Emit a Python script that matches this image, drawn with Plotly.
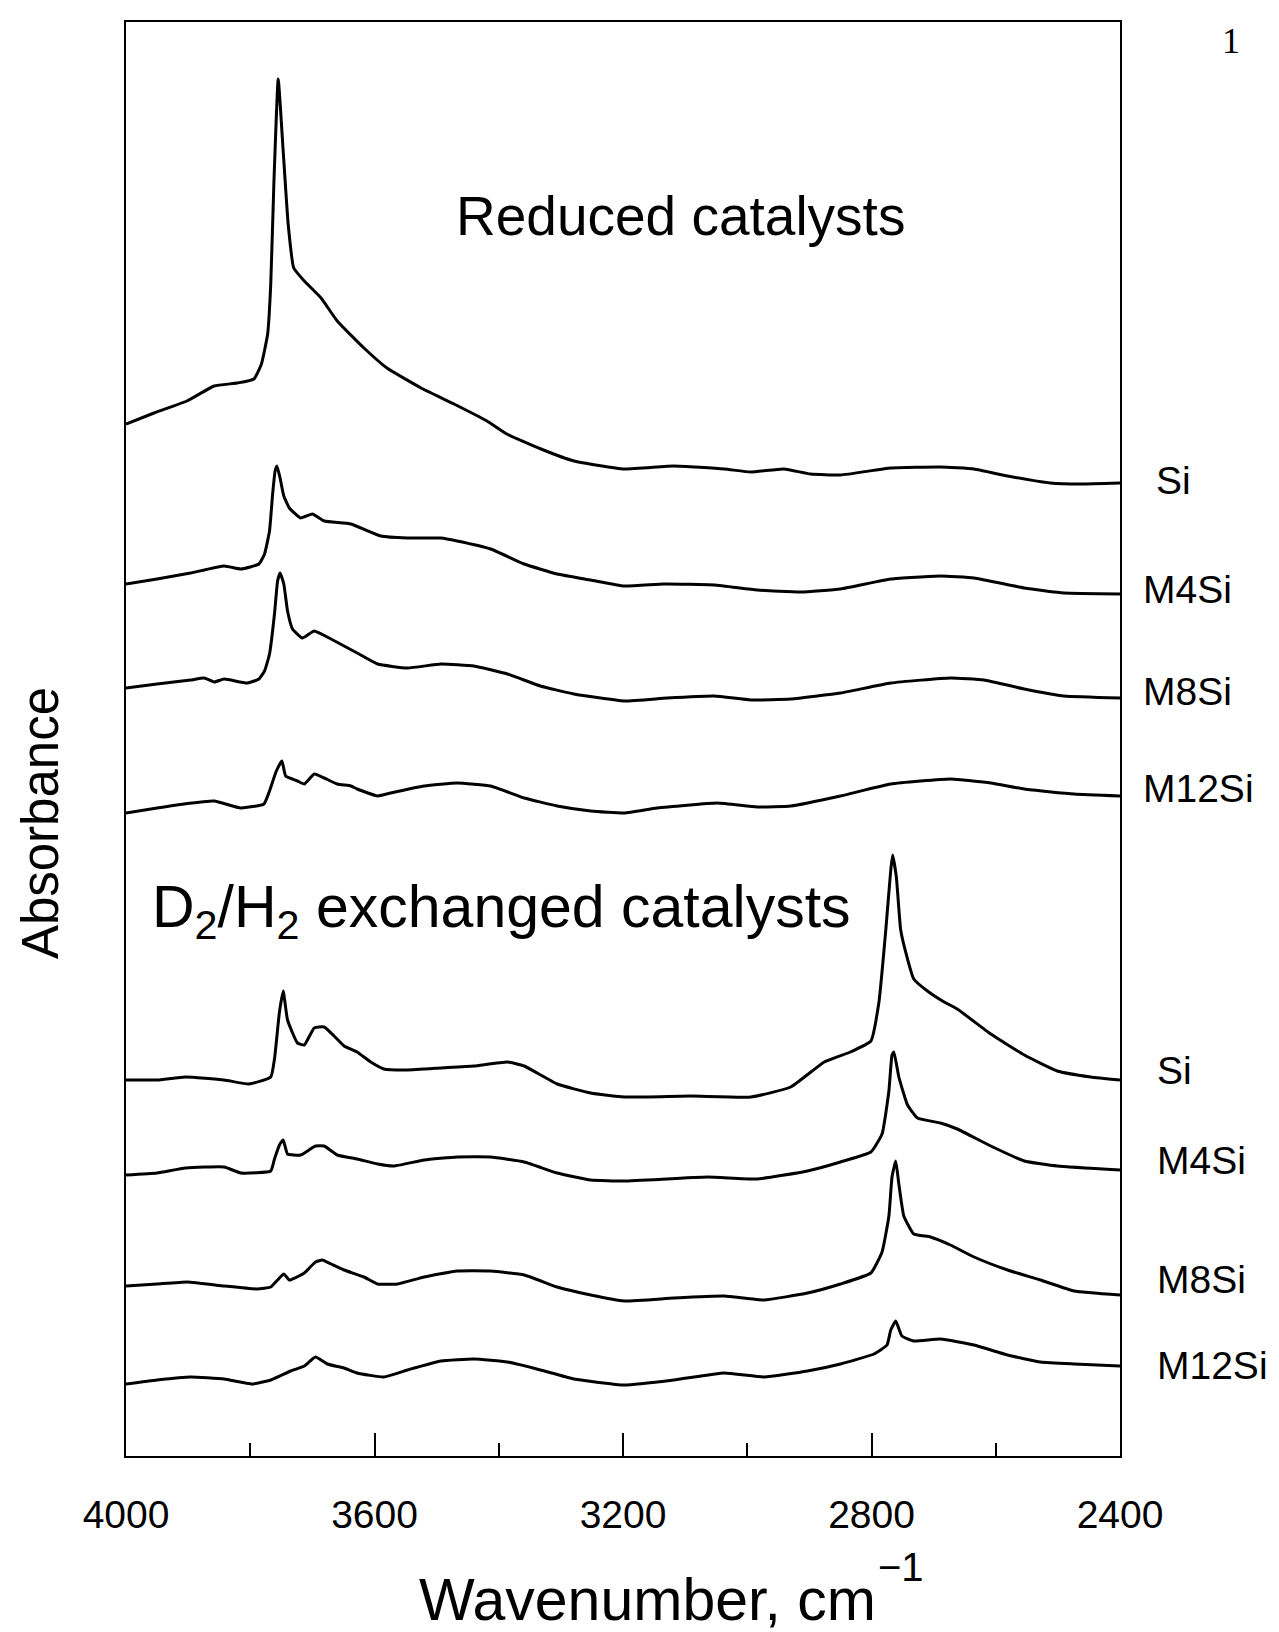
import plotly.graph_objects as go

# ---------------- data ----------------
# wavenumber (cm^-1) and absorbance (a.u., offset as plotted)
red_si_w = [4000, 3955, 3902, 3858, 3821, 3794, 3782, 3772, 3767, 3762, 3755, 3747, 3739, 3730, 3713,
            3686, 3660, 3617, 3580, 3525, 3472, 3419, 3387, 3332, 3279, 3198, 3118, 3037, 2994, 2941,
            2898, 2850, 2769, 2689, 2635, 2581, 2512, 2463, 2400]
red_si_a = [1.032, 1.043, 1.055, 1.070, 1.073, 1.077, 1.092, 1.122, 1.172, 1.272, 1.377, 1.305, 1.232, 1.188, 1.175,
            1.158, 1.135, 1.108, 1.088, 1.068, 1.052, 1.035, 1.022, 1.007, 0.995, 0.987, 0.990, 0.987, 0.984, 0.987,
            0.982, 0.981, 0.988, 0.989, 0.987, 0.980, 0.973, 0.972, 0.973]

red_m4_w = [4000, 3950, 3896, 3842, 3815, 3786, 3777, 3769, 3764, 3760, 3757, 3752, 3746, 3737, 3719,
            3700, 3681, 3638, 3590, 3547, 3493, 3467, 3413, 3359, 3306, 3252, 3198, 3134, 3053, 2984,
            2914, 2850, 2769, 2689, 2635, 2554, 2490, 2400]
red_m4_a = [0.872, 0.877, 0.883, 0.890, 0.887, 0.892, 0.902, 0.925, 0.962, 0.985, 0.990, 0.978, 0.960, 0.948, 0.938,
            0.942, 0.935, 0.932, 0.920, 0.918, 0.918, 0.915, 0.907, 0.892, 0.882, 0.876, 0.870, 0.872, 0.871, 0.866,
            0.864, 0.867, 0.877, 0.880, 0.878, 0.868, 0.863, 0.862]

red_m8_w = [4000, 3950, 3896, 3874, 3858, 3842, 3805, 3786, 3777, 3769, 3761, 3756, 3752, 3746, 3740,
            3732, 3716, 3697, 3670, 3628, 3595, 3547, 3493, 3440, 3386, 3333, 3279, 3198, 3129, 3053,
            2994, 2930, 2850, 2769, 2673, 2619, 2554, 2490, 2400]
red_m8_a = [0.768, 0.772, 0.776, 0.778, 0.774, 0.777, 0.773, 0.777, 0.785, 0.802, 0.842, 0.875, 0.883, 0.872, 0.845,
            0.827, 0.818, 0.825, 0.817, 0.803, 0.792, 0.788, 0.792, 0.790, 0.782, 0.770, 0.762, 0.755, 0.758, 0.760,
            0.756, 0.757, 0.763, 0.773, 0.778, 0.776, 0.767, 0.760, 0.758]

red_m12_w = [4000, 3950, 3907, 3858, 3815, 3778, 3769, 3758, 3749, 3743, 3724, 3713, 3697, 3681, 3660,
             3638, 3628, 3595, 3574, 3520, 3467, 3413, 3359, 3306, 3252, 3198, 3145, 3048, 2984, 2930,
             2850, 2769, 2673, 2608, 2554, 2474, 2400]
red_m12_a = [0.643, 0.648, 0.652, 0.655, 0.648, 0.652, 0.665, 0.685, 0.695, 0.680, 0.675, 0.672, 0.682, 0.678, 0.672,
             0.670, 0.667, 0.660, 0.663, 0.670, 0.673, 0.670, 0.658, 0.650, 0.645, 0.643, 0.648, 0.653, 0.649, 0.650,
             0.660, 0.672, 0.677, 0.673, 0.667, 0.662, 0.660]

ex_si_w = [4000, 3950, 3904, 3842, 3802, 3767, 3761, 3753, 3747, 3740, 3724, 3713, 3697, 3681, 3665,
           3649, 3628, 3606, 3585, 3547, 3493, 3440, 3386, 3359, 3306, 3252, 3198, 3091, 2994, 2930,
           2876, 2834, 2801, 2788, 2777, 2769, 2766, 2760, 2753, 2742, 2732, 2710, 2683, 2662, 2608,
           2554, 2501, 2447, 2400]
ex_si_a = [0.376, 0.376, 0.379, 0.376, 0.372, 0.379, 0.397, 0.444, 0.465, 0.436, 0.413, 0.411, 0.428, 0.429, 0.420,
           0.410, 0.404, 0.394, 0.387, 0.386, 0.388, 0.390, 0.394, 0.390, 0.372, 0.363, 0.359, 0.360, 0.359, 0.369,
           0.394, 0.404, 0.415, 0.454, 0.526, 0.586, 0.601, 0.579, 0.526, 0.497, 0.477, 0.465, 0.454, 0.447, 0.422,
           0.401, 0.385, 0.379, 0.376]

ex_m4_w = [4000, 3950, 3904, 3842, 3815, 3767, 3761, 3753, 3747, 3740, 3719, 3695, 3681, 3660, 3628,
           3595, 3569, 3520, 3467, 3413, 3359, 3306, 3252, 3198, 3064, 2984, 2903, 2850, 2801, 2783,
           2772, 2767, 2764, 2756, 2742, 2726, 2689, 2662, 2608, 2554, 2501, 2400]
ex_m4_a = [0.281, 0.283, 0.288, 0.289, 0.283, 0.285, 0.297, 0.311, 0.316, 0.302, 0.301, 0.310, 0.310, 0.301, 0.297,
           0.292, 0.290, 0.296, 0.299, 0.299, 0.294, 0.283, 0.276, 0.275, 0.279, 0.277, 0.285, 0.294, 0.304, 0.322,
           0.365, 0.401, 0.404, 0.379, 0.351, 0.338, 0.333, 0.327, 0.310, 0.295, 0.290, 0.286]

ex_m8_w = [4000, 3950, 3901, 3842, 3789, 3767, 3756, 3746, 3737, 3713, 3695, 3684, 3670, 3649, 3617,
           3595, 3563, 3520, 3467, 3413, 3359, 3306, 3252, 3198, 3118, 3037, 2973, 2903, 2850, 2801,
           2783, 2772, 2767, 2761, 2756, 2748, 2732, 2705, 2673, 2635, 2581, 2528, 2474, 2400]
ex_m8_a = [0.170, 0.172, 0.174, 0.170, 0.167, 0.169, 0.176, 0.182, 0.176, 0.183, 0.194, 0.196, 0.192, 0.186, 0.179,
           0.172, 0.172, 0.179, 0.185, 0.185, 0.181, 0.169, 0.161, 0.155, 0.158, 0.160, 0.156, 0.163, 0.172, 0.183,
           0.204, 0.240, 0.279, 0.295, 0.272, 0.240, 0.222, 0.219, 0.211, 0.199, 0.186, 0.176, 0.165, 0.161]

ex_m12_w = [4000, 3950, 3896, 3842, 3797, 3767, 3735, 3713, 3695, 3676, 3649, 3628, 3585, 3547, 3493,
            3440, 3386, 3333, 3279, 3198, 3118, 3037, 2973, 2903, 2850, 2796, 2775, 2769, 2761, 2751,
            2732, 2689, 2635, 2581, 2528, 2474, 2400]
ex_m12_a = [0.072, 0.076, 0.079, 0.077, 0.072, 0.076, 0.085, 0.090, 0.099, 0.092, 0.088, 0.083, 0.079, 0.086, 0.095,
            0.097, 0.094, 0.086, 0.077, 0.071, 0.076, 0.083, 0.079, 0.085, 0.092, 0.102, 0.111, 0.126, 0.135, 0.120,
            0.115, 0.117, 0.111, 0.101, 0.094, 0.092, 0.090]

series = [
    ("Si", red_si_w, red_si_a), ("M4Si", red_m4_w, red_m4_a),
    ("M8Si", red_m8_w, red_m8_a), ("M12Si", red_m12_w, red_m12_a),
    ("Si", ex_si_w, ex_si_a), ("M4Si", ex_m4_w, ex_m4_a),
    ("M8Si", ex_m8_w, ex_m8_a), ("M12Si", ex_m12_w, ex_m12_a),
]

# right-hand sample labels
label_text = ["Si", "M4Si", "M8Si", "M12Si", "Si", "M4Si", "M8Si", "M12Si"]
label_level = [0.976, 0.867, 0.765, 0.668, 0.386, 0.296, 0.177, 0.091]
label_paper_x = [1.034, 1.021, 1.021, 1.021, 1.035, 1.035, 1.035, 1.035]

x_ticks = [4000, 3600, 3200, 2800, 2400]
x_minor = [3800, 3400, 3000, 2600]

FONT = "Liberation Sans, Arial, Helvetica, sans-serif"

fig = go.Figure()
for name, w, a in series:
    fig.add_trace(go.Scatter(x=w, y=a, mode="lines", name=name,
                             line=dict(color="black", width=3, shape="spline", smoothing=0.4),
                             showlegend=False))

for t, lv, px in zip(label_text, label_level, label_paper_x):
    fig.add_annotation(text=t, xref="paper", yref="y", x=px, y=lv, xanchor="left", yanchor="middle",
                       showarrow=False, font=dict(family=FONT, size=39, color="black"))

fig.add_annotation(text="Reduced catalysts", xref="x", yref="y", x=3107, y=1.240,
                   xanchor="center", yanchor="middle", showarrow=False,
                   font=dict(family=FONT, size=55, color="black"))
fig.add_annotation(text="D<sub>2</sub>/H<sub>2</sub> exchanged catalysts", xref="x", yref="y", x=3395, y=0.545,
                   xanchor="center", yanchor="middle", showarrow=False,
                   font=dict(family=FONT, size=59, color="black"))
fig.add_annotation(text="Absorbance", xref="paper", yref="paper", x=-0.086, y=0.441,
                   xanchor="center", yanchor="middle", textangle=-90, showarrow=False,
                   font=dict(family=FONT, size=51, color="black"))
fig.add_annotation(text="Wavenumber, cm", xref="paper", yref="paper", x=0.525, y=-0.1004,
                   xanchor="center", yanchor="middle", showarrow=False,
                   font=dict(family=FONT, size=59, color="black"))
fig.add_annotation(text="\u22121", xref="paper", yref="paper", x=0.780, y=-0.0775,
                   xanchor="center", yanchor="middle", showarrow=False,
                   font=dict(family=FONT, size=40, color="black"))
fig.add_annotation(text="1", xref="paper", yref="paper", x=1.1117, y=0.987,
                   xanchor="center", yanchor="middle", showarrow=False,
                   font=dict(family="Liberation Serif, Times New Roman, serif", size=36, color="black"))

fig.update_layout(
    width=1279, height=1632,
    margin=dict(l=118, r=167, t=14, b=184),
    paper_bgcolor="white", plot_bgcolor="white",
    showlegend=False,
)
fig.update_xaxes(
    range=[4000, 2400], showgrid=False, zeroline=False,
    showline=True, mirror=True, linecolor="black", linewidth=2,
    tickmode="array", tickvals=x_ticks, ticktext=[str(v) for v in x_ticks],
    ticks="inside", ticklen=23, tickwidth=2, tickcolor="black",
    minor=dict(tickmode="array", tickvals=x_minor, ticks="inside", ticklen=13, tickwidth=2, tickcolor="black",
               showgrid=False),
    tickfont=dict(family=FONT, size=39, color="black"),
    ticklabelstandoff=23,
)
fig.update_yaxes(
    range=[0.0, 1.434], showgrid=False, zeroline=False,
    showline=True, mirror=True, linecolor="black", linewidth=2,
    showticklabels=False, ticks="",
)

fig.write_html("out.html")
